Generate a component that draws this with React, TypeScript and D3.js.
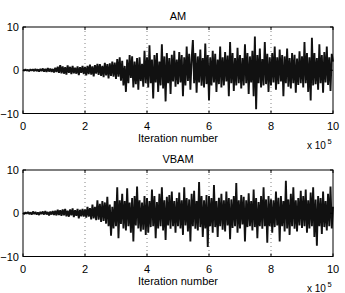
import React from "react"
import * as d3 from "d3"

// sampled every 4000 iterations, 0 .. 1e6 (one row of 25 values per 1e5)
const amValues = [
  0.1, -0.1, 0.2, -0.1, 0.1, -0.2, 0.2, -0.1, 0.2, -0.2, 0.3, -0.2, 0.2, -0.3, 0.3, -0.2, 0.4, -0.3, 0.3, -0.4, 0.5, -0.3, 0.4, -0.4, 0.3,
  -0.5, 0.6, -0.4, 0.8, -0.6, 1.2, -0.7, 0.9, -0.8, 0.7, -1.0, 1.1, -0.6, 0.8, -0.9, 1.0, -0.7, 0.6, -0.8, 0.9, -1.1, 0.7, -0.6, 1.0, -0.9,
  0.8, -1.2, 1.0, -0.9, 1.3, -1.0, 0.9, -1.4, 1.2, -0.8, 1.5, -1.1, 1.4, -1.3, 1.0, -1.6, 1.7, -1.2, 1.4, -1.9, 1.6, -1.3, 2.0, -1.5, 1.8,
  -2.0, 2.6, -1.5, 3.0, -2.4, 2.2, -3.5, 1.0, -5.0, 2.5, -3.0, 3.5, -1.8, 3.2, -4.0, 2.0, -3.2, 2.8, -4.5, 3.0, -2.5, 1.5, -3.8, 4.5, -3.0,
  3.0, -4.0, 5.8, -3.0, 2.5, -6.5, 3.5, -2.8, 4.0, -5.0, 2.0, -3.5, 6.0, -4.2, 3.2, -7.2, 4.0, -3.0, 2.8, -5.5, 3.6, -2.6, 4.5, -3.8, 2.5,
  -3.2, 4.2, -2.8, 3.5, -6.0, 3.0, -3.5, 5.5, -2.5, 3.8, -4.5, 2.6, 7.0, -3.0, 4.0, -5.2, 3.2, -2.8, 4.8, -3.6, 2.8, -4.0, 6.2, -3.2, 3.5,
  -7.0, 3.0, -3.5, 4.5, -2.8, 3.8, -5.0, 2.5, -3.2, 5.5, -4.0, 3.0, -3.5, 4.2, -2.6, 3.4, -6.0, 6.5, -3.0, 4.0, -4.8, 2.8, -3.5, 5.2, -3.0,
  3.5, -4.2, 2.8, -3.5, 6.0, -3.0, 4.0, -5.5, 3.2, -2.8, 4.5, -6.0, 7.8, -9.0, 3.5, -3.0, 5.0, -4.0, 2.6, -3.5, 6.5, -3.2, 3.8, -5.0, 3.0,
  -3.5, 4.0, -2.8, 5.5, -4.5, 3.0, -3.2, 4.8, -2.6, 3.5, -6.0, 3.2, -3.0, 5.0, -3.8, 2.8, -4.2, 4.0, -3.0, 3.6, -5.2, 2.7, -3.4, 4.4, -3.0,
  3.2, -4.0, 6.5, -3.0, 4.0, -5.0, 3.0, -7.0, 7.5, -3.5, 4.0, -3.2, 2.8, -4.5, 6.0, -3.0, 3.5, -5.2, 4.2, -2.8, 5.5, -3.4, 3.0, -4.8, 3.8,
  2.0,
]

const vbamValues = [
  0.1, -0.2, 0.2, -0.1, 0.3, -0.2, 0.2, -0.3, 0.4, -0.2, 0.3, -0.3, 0.2, -0.4, 0.3, -0.2, 0.4, -0.3, 0.5, -0.3, 0.3, -0.5, 0.4, -0.3, 0.5,
  -0.4, 0.6, -0.5, 0.8, -0.4, 0.7, -0.6, 0.9, -0.5, 1.0, -0.7, 0.6, -0.8, 0.9, -0.5, 1.1, -0.9, 0.7, -0.6, 1.0, -1.2, 0.8, -0.7, 1.0, -0.8,
  0.9, -1.0, 1.5, -0.8, 1.2, -1.4, 2.0, -1.2, 1.5, -1.6, 3.0, -1.5, 2.2, -2.0, 2.8, -1.8, 2.5, -2.4, 3.8, -3.0, 2.0, -5.2, 1.5, -3.5, 2.8,
  -3.0, 6.0, -5.8, 3.0, -2.5, 4.5, -3.5, 2.8, -4.0, 5.8, -3.0, 2.5, -4.5, 3.5, -6.5, 4.0, -2.8, 6.2, -3.5, 3.0, -4.2, 2.5, -3.8, 4.0, -5.0,
  3.5, -4.5, 2.8, -3.2, 5.5, -3.0, 4.0, -5.8, 2.6, -3.5, 4.5, -3.0, 6.0, -4.0, 3.0, -6.2, 3.8, -2.8, 4.2, -3.6, 5.0, -3.0, 2.8, -4.5, 3.5,
  -3.0, 4.8, -3.5, 3.0, -5.0, 6.0, -2.8, 3.5, -4.2, 3.2, -6.5, 4.5, -3.0, 5.2, -3.6, 2.8, -4.0, 7.2, -3.2, 4.0, -5.5, 3.0, -3.5, 4.2, -7.8,
  4.0, -3.0, 3.5, -4.5, 6.5, -3.2, 2.8, -5.5, 3.6, -3.0, 4.5, -3.8, 3.0, -4.2, 5.0, -2.8, 3.5, -6.0, 3.2, -3.4, 4.0, -3.0, 7.0, -4.5, 3.0,
  -3.5, 4.2, -2.6, 3.8, -6.5, 3.0, -3.2, 4.6, -3.0, 2.8, -4.0, 5.5, -3.2, 3.5, -5.8, 2.6, -3.0, 4.0, -3.6, 6.0, -3.0, 3.2, -6.8, 4.0, -3.0,
  3.2, -4.5, 3.0, -3.2, 5.0, -2.8, 3.6, -6.5, 4.0, -3.0, 2.8, -4.2, 7.5, -3.5, 3.2, -5.0, 4.5, -3.0, 6.0, -3.6, 3.0, -4.2, 3.5, -2.8, 5.2,
  -3.4, 4.0, -3.0, 5.5, -4.5, 3.0, -3.5, 4.8, -3.0, 6.0, -5.5, 3.2, -7.5, 4.0, -3.0, 3.5, -4.8, 5.0, -3.2, 2.8, -4.0, 4.5, -3.0, 6.2, -3.5,
  1.5,
]

const xTicks = [0, 2, 4, 6, 8, 10]
const yTicks = [-10, 0, 10]
const gridTicks = [2, 4, 6, 8]
const titles = ["AM", "VBAM"]

const W = 345
const H = 293
const left = 23
const right = 333
const font = "'Liberation Sans', Arial, Helvetica, sans-serif"

function Panel({ title, values, top }: { title: string; values: number[]; top: number }) {
  const bottom = top + 86.5
  const x = d3.scaleLinear().domain([0, 10]).range([left, right])
  const y = d3.scaleLinear().domain([-10, 10]).range([bottom, top])
  const step = 10 / (values.length - 1)
  const line = d3
    .line<number>()
    .x((_, i) => x(i * step))
    .y((d) => y(d))
  const fmt = (v: number) => (v < 0 ? "\u2212" + Math.abs(v) : String(v))

  return (
    <g>
      <text x={(left + right) / 2} y={top - 7} textAnchor="middle" fontSize={11} fontFamily={font}>
        {title}
      </text>
      {gridTicks.map((t) => (
        <line
          key={"g" + t}
          x1={x(t)}
          x2={x(t)}
          y1={top}
          y2={bottom}
          stroke="#666"
          strokeWidth={0.8}
          strokeDasharray="1,3"
        />
      ))}
      <path d={line(values) || ""} fill="none" stroke="#111" strokeWidth={1.9} strokeLinejoin="bevel" />
      <rect x={left} y={top} width={right - left} height={bottom - top} fill="none" stroke="#000" strokeWidth={1} />
      {xTicks.map((t) => (
        <g key={"x" + t}>
          <line x1={x(t)} x2={x(t)} y1={bottom} y2={bottom - 3} stroke="#000" />
          <line x1={x(t)} x2={x(t)} y1={top} y2={top + 3} stroke="#000" />
          <text x={x(t)} y={bottom + 16.5} textAnchor="middle" fontSize={11} fontFamily={font}>
            {t}
          </text>
        </g>
      ))}
      {yTicks.map((t) => (
        <g key={"y" + t}>
          <line x1={left} x2={left + 3} y1={y(t)} y2={y(t)} stroke="#000" />
          <line x1={right} x2={right - 3} y1={y(t)} y2={y(t)} stroke="#000" />
          <text x={left - 4} y={y(t) + 4} textAnchor="end" fontSize={11} fontFamily={font}>
            {fmt(t)}
          </text>
        </g>
      ))}
      <text x={(left + right) / 2} y={bottom + 28.5} textAnchor="middle" fontSize={11} fontFamily={font}>
        Iteration number
      </text>
      <text x={307} y={bottom + 35.5} fontSize={10} fontFamily={font}>
        x 10
      </text>
      <text x={327.5} y={bottom + 30} fontSize={7.5} fontFamily={font}>
        5
      </text>
    </g>
  )
}

export default function App() {
  return (
    <svg
      width={W}
      height={H}
      style={{ position: "absolute", left: 0, top: 0, background: "#fff" }}
    >
      <rect width={W} height={H} fill="#fff" />
      <Panel title={titles[0]} values={amValues} top={27} />
      <Panel title={titles[1]} values={vbamValues} top={170} />
    </svg>
  )
}
